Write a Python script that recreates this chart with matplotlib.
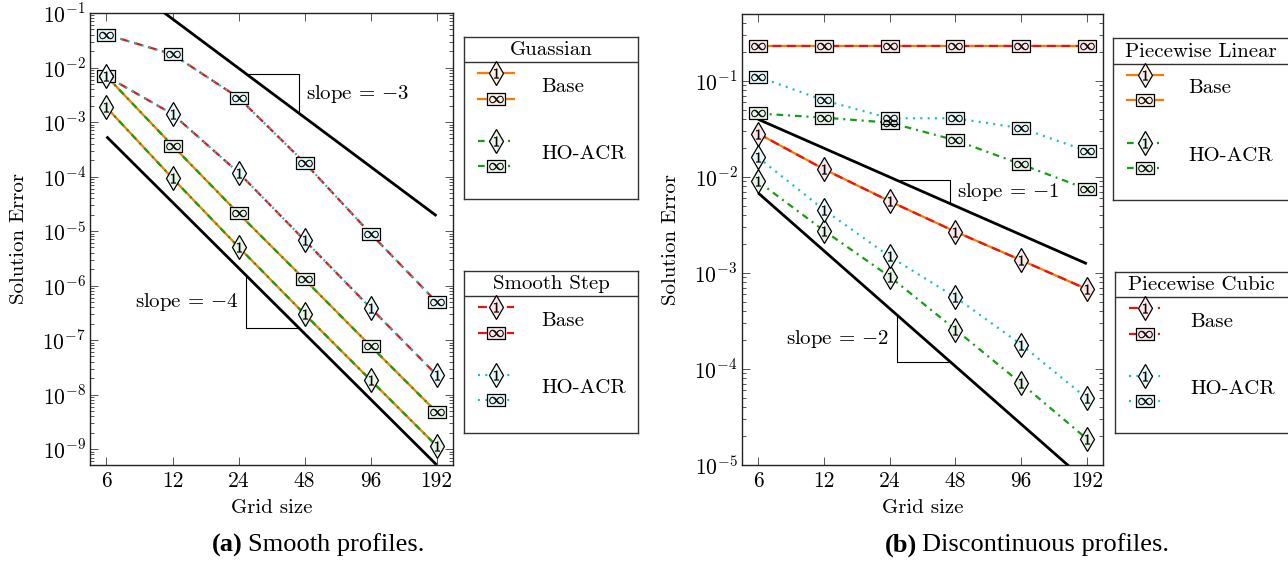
import numpy as np
import matplotlib
matplotlib.use("Agg")
import matplotlib.pyplot as plt
from matplotlib.path import Path

plt.rcParams["font.family"] = "serif"
plt.rcParams["font.serif"] = ["cmr10"]
plt.rcParams["mathtext.fontset"] = "cm"
plt.rcParams["axes.formatter.use_mathtext"] = True
plt.rcParams["axes.unicode_minus"] = False

# ---------------- data ----------------
grid = [6, 12, 24, 48, 96, 192]
grid_labels = ["6", "12", "24", "48", "96", "192"]

# (a) smooth profiles
gauss_base_l1 = [1.85e-3, 9.3e-5, 5.1e-6, 3.0e-7, 1.85e-8, 1.15e-9]
gauss_base_linf = [6.9e-3, 3.7e-4, 2.1e-5, 1.3e-6, 7.8e-8, 4.8e-9]
gauss_ho_l1 = [1.85e-3, 9.3e-5, 5.1e-6, 3.0e-7, 1.85e-8, 1.15e-9]
gauss_ho_linf = [6.9e-3, 3.7e-4, 2.1e-5, 1.3e-6, 7.8e-8, 4.8e-9]
step_base_l1 = [6.9e-3, 1.4e-3, 1.18e-4, 6.8e-6, 3.9e-7, 2.3e-8]
step_base_linf = [4.0e-2, 1.75e-2, 2.8e-3, 1.8e-4, 9.0e-6, 5.0e-7]
step_ho_l1 = [6.9e-3, 1.4e-3, 1.18e-4, 6.8e-6, 3.9e-7, 2.3e-8]
step_ho_linf = [4.0e-2, 1.75e-2, 2.8e-3, 1.8e-4, 9.0e-6, 5.0e-7]

# (b) discontinuous profiles
lin_base_l1 = [2.84e-2, 1.21e-2, 5.6e-3, 2.7e-3, 1.36e-3, 6.8e-4]
lin_base_linf = [0.23, 0.23, 0.23, 0.23, 0.23, 0.23]
lin_ho_l1 = [9.0e-3, 2.77e-3, 9.2e-4, 2.58e-4, 7.1e-5, 1.87e-5]
lin_ho_linf = [4.6e-2, 4.16e-2, 3.69e-2, 2.42e-2, 1.36e-2, 7.5e-3]
cub_base_l1 = [2.84e-2, 1.21e-2, 5.6e-3, 2.7e-3, 1.36e-3, 6.8e-4]
cub_base_linf = [0.23, 0.23, 0.23, 0.23, 0.23, 0.23]
cub_ho_l1 = [1.6e-2, 4.57e-3, 1.49e-3, 5.6e-4, 1.8e-4, 4.95e-5]
cub_ho_linf = [0.111, 6.3e-2, 4.1e-2, 4.1e-2, 3.23e-2, 1.87e-2]

# reference slopes: (order, coefficient C in C * N^-order)
ref_a = [(3, 134.5), (4, 0.70)]
ref_b = [(1, 0.24), (2, 0.246)]
tri_span = (26.0, 45.5)

# ---------------- styles ----------------
ORANGE = "#f57c00"
RED = "#e81313"
GREEN = "#11a011"
CYAN = "#14c0c4"
LW = 1.6
STY_SOLID = "-"
STY_DASH = (0, (4, 2.5))
STY_DOT = (0, (0.9, 2.4))
STY_DASHDOT = (0, (3, 2.2, 0.9, 2.2))
FS = 15
TICK_FS = 15.5

W, H = 1288, 569
fig = plt.figure(figsize=(W / 100, H / 100), dpi=100)


def px_axes(left, top, right, bottom):
    return fig.add_axes([left / W, 1 - bottom / H, (right - left) / W, (bottom - top) / H])


# wide rectangle marker for the max-norm points
RECT = Path([(-1.35, -1), (1.35, -1), (1.35, 1), (-1.35, 1), (-1.35, -1)],
            [Path.MOVETO, Path.LINETO, Path.LINETO, Path.LINETO, Path.CLOSEPOLY])


def tint(c, a=0.1):
    rgb = np.array(matplotlib.colors.to_rgb(c))
    return tuple(1 - a * (1 - rgb))


def draw_marks(ax, x, y, kind, color, z=5):
    if kind == "l1":
        ax.plot(x, y, ls="none", marker="d", ms=12.5, mfc=tint(color), mec="black",
                mew=0.9, zorder=z, clip_on=False)
        ax.plot(x, y, ls="none", marker="$1$", ms=7, color="black", mew=0.3,
                zorder=z + 0.1, clip_on=False)
    else:
        ax.plot(x, y, ls="none", marker=RECT, ms=12.5, mfc=tint(color), mec="black",
                mew=0.9, zorder=z, clip_on=False)
        ax.plot(x, y, ls="none", marker=r"$\infty$", ms=10, color="black", mew=0.3,
                zorder=z + 0.1, clip_on=False)


def setup_axes(ax, ylim, decades):
    ax.set_xscale("log", base=2)
    ax.set_yscale("log")
    ax.set_xlim(6 / 2 ** 0.25, 192 * 2 ** 0.25)
    ax.set_ylim(*ylim)
    ax.set_xticks(grid)
    ax.set_xticklabels(grid_labels)
    ax.xaxis.set_minor_locator(matplotlib.ticker.NullLocator())
    ax.set_yticks([10.0 ** d for d in decades])
    ax.set_yticklabels([r"$10^{%d}$" % d for d in decades])
    ax.yaxis.set_minor_locator(matplotlib.ticker.LogLocator(base=10, subs=np.arange(2, 10)))
    ax.yaxis.set_minor_formatter(matplotlib.ticker.NullFormatter())
    ax.tick_params(which="both", direction="in", top=True, right=True,
                   labelsize=TICK_FS, color="#555555", width=0.7)
    ax.tick_params(which="major", length=5.5)
    ax.tick_params(which="minor", length=3)
    ax.tick_params(axis="x", pad=5)
    ax.tick_params(axis="y", pad=3)
    for s in ax.spines.values():
        s.set_linewidth(1.0)
        s.set_color("#222222")
    ax.set_xlabel("Grid size", fontsize=FS)
    ax.set_ylabel("Solution Error", fontsize=FS)
    ax.xaxis.set_label_coords(0.5, -0.075)
    ax.yaxis.set_label_coords(-0.17, 0.5)


def ref_line(ax, order, c):
    xs = np.array([grid[0], grid[-1]], dtype=float)
    ax.plot(xs, c * xs ** (-order), color="black", lw=2.0, zorder=3, solid_capstyle="butt")


def triangle(ax, order, c, above, label):
    x1, x2 = tri_span
    y1, y2 = c * x1 ** (-order), c * x2 ** (-order)
    ym = np.sqrt(y1 * y2)
    if above:
        ax.plot([x1, x2, x2], [y1, y1, y2], color="black", lw=0.8, zorder=3)
        ax.text(x2 * 1.07, ym, label, fontsize=FS, ha="left", va="center")
    else:
        ax.plot([x1, x1, x2], [y1, y2, y2], color="black", lw=0.8, zorder=3)
        ax.text(x1 / 1.09, ym, label, fontsize=FS, ha="right", va="center")


def slope_label(order):
    return r"slope = $-%d$" % order


# ---------------- (a) smooth profiles ----------------
axa = px_axes(90, 13, 453, 465)
setup_axes(axa, (5.1e-10, 1e-1), range(-9, 0))
for order, c in ref_a:
    ref_line(axa, order, c)
triangle(axa, 3, ref_a[0][1], True, slope_label(3))
triangle(axa, 4, ref_a[1][1], False, slope_label(4))

axa.plot(grid, gauss_base_l1, color=ORANGE, ls=STY_SOLID, lw=LW, zorder=4)
axa.plot(grid, gauss_base_linf, color=ORANGE, ls=STY_SOLID, lw=LW, zorder=4)
axa.plot(grid, gauss_ho_l1, color=GREEN, ls=STY_DASHDOT, lw=LW, zorder=4)
axa.plot(grid, gauss_ho_linf, color=GREEN, ls=STY_DASHDOT, lw=LW, zorder=4)
axa.plot(grid, step_base_l1, color=RED, ls=STY_DASH, lw=LW, zorder=4)
axa.plot(grid, step_base_linf, color=RED, ls=STY_DASH, lw=LW, zorder=4)
axa.plot(grid, step_ho_l1, color=CYAN, ls=STY_DOT, lw=LW, zorder=4)
axa.plot(grid, step_ho_linf, color=CYAN, ls=STY_DOT, lw=LW, zorder=4)
draw_marks(axa, grid, gauss_ho_l1, "l1", GREEN)
draw_marks(axa, grid, gauss_ho_linf, "linf", GREEN)
draw_marks(axa, grid, step_ho_linf, "linf", CYAN)
draw_marks(axa, grid, step_ho_l1, "l1", CYAN, z=6)

# ---------------- (b) discontinuous profiles ----------------
axb = px_axes(741.7, 14, 1103.3, 465)
setup_axes(axb, (1e-5, 0.5), range(-5, 0))
for order, c in ref_b:
    ref_line(axb, order, c)
triangle(axb, 1, ref_b[0][1], True, slope_label(1))
triangle(axb, 2, ref_b[1][1], False, slope_label(2))

axb.plot(grid, lin_base_l1, color=ORANGE, ls=STY_SOLID, lw=LW, zorder=4)
axb.plot(grid, lin_base_linf, color=ORANGE, ls=STY_SOLID, lw=LW, zorder=4)
axb.plot(grid, lin_ho_l1, color=GREEN, ls=STY_DASHDOT, lw=LW, zorder=4)
axb.plot(grid, lin_ho_linf, color=GREEN, ls=STY_DASHDOT, lw=LW, zorder=4)
axb.plot(grid, cub_base_l1, color=RED, ls=STY_DASH, lw=LW, zorder=4)
axb.plot(grid, cub_base_linf, color=RED, ls=STY_DASH, lw=LW, zorder=4)
axb.plot(grid, cub_ho_l1, color=CYAN, ls=STY_DOT, lw=LW, zorder=4)
axb.plot(grid, cub_ho_linf, color=CYAN, ls=STY_DOT, lw=LW, zorder=4)
draw_marks(axb, grid, lin_ho_l1, "l1", GREEN)
draw_marks(axb, grid, lin_ho_linf, "linf", GREEN)
draw_marks(axb, grid, cub_base_l1, "l1", RED)
draw_marks(axb, grid, cub_base_linf, "linf", RED)
draw_marks(axb, grid, cub_ho_l1, "l1", CYAN)
draw_marks(axb, grid, cub_ho_linf, "linf", CYAN)


# ---------------- legends ----------------
def legend_box(left, top, right, bottom, title, base_style, ho_style, sx0, sx1, tx):
    ax = px_axes(left, top, right, bottom)
    w, h = right - left, bottom - top
    ax.set_xlim(0, w)
    ax.set_ylim(h, 0)
    ax.set_xticks([])
    ax.set_yticks([])
    for s in ax.spines.values():
        s.set_linewidth(1.0)
        s.set_color("#333333")
    ax.axhline(25.5, color="#333333", lw=1.0)
    ax.text((min(right, W) - left) / 2, 13.5, title, fontsize=FS, ha="center", va="center")
    sx0 -= left
    sx1 -= left
    mx = (sx0 + sx1) / 2
    for (color, ls), rows, label, ty in [(base_style, (36.7, 62.0), "Base", 50.2),
                                          (ho_style, (104.4, 129.4), "HO-ACR", 117.7)]:
        for kind, yy in zip(("l1", "linf"), rows):
            ax.plot([sx0, sx1], [yy, yy], color=color, ls=ls, lw=LW, zorder=2)
            draw_marks(ax, [mx], [yy], kind, color, z=4)
        ax.text(tx - left, ty, label, fontsize=FS, ha="left", va="center")


legend_box(464.3, 36.7, 637.7, 199, "Guassian", (ORANGE, STY_SOLID), (GREEN, STY_DASHDOT),
           478, 514, 541)
legend_box(464.3, 270.7, 637.7, 433.3, "Smooth Step", (RED, STY_DASH), (CYAN, STY_DOT),
           478, 514, 541)
legend_box(1113.3, 38.3, 1300, 200, "Piecewise Linear", (ORANGE, STY_SOLID),
           (GREEN, STY_DASHDOT), 1126.7, 1162.7, 1188.3)
legend_box(1115, 271.7, 1300, 433.3, "Piecewise Cubic", (RED, STY_DASH), (CYAN, STY_DOT),
           1129, 1160, 1190.7)

# ---------------- captions ----------------
renderer = fig.canvas.get_renderer()
cap_base = 1 - 551.5 / H
for x0, tag, body in [(212, "(a)", "Smooth profiles."), (885, "(b)", "Discontinuous profiles.")]:
    t = fig.text(x0 / W, cap_base, tag, fontsize=19, fontweight="bold", ha="left",
                 va="baseline", family="Liberation Serif")
    bb = t.get_window_extent(renderer)
    fig.text((bb.x1 + 5) / W, cap_base, body, fontsize=19, ha="left", va="baseline",
             family="Liberation Serif")

fig.savefig("out.png", dpi=100)
